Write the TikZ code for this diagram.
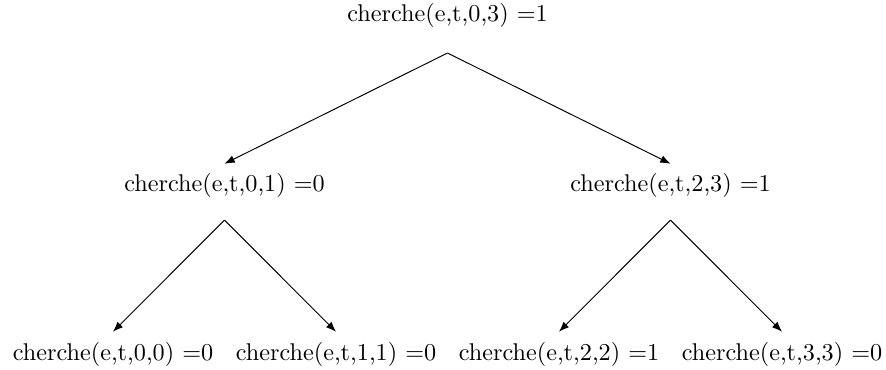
\documentclass[tikz,border=0pt]{standalone}
\usetikzlibrary{arrows.meta}
\begin{document}
\begin{tikzpicture}[x=0.413pt,y=-0.413pt,
  lbl/.style={inner sep=0pt,outer sep=0pt},
  arr/.style={line width=0.4pt,-{Latex[length=4.2pt,width=3.2pt]}}]
\useasboundingbox (0,0) rectangle (886,369);
\node[lbl] (r) at (447.5,15.5) {cherche(e,t,0,3) $=$1};
\node[lbl] (a) at (224.5,185.5) {cherche(e,t,0,1) $=$0};
\node[lbl] (b) at (670.5,185.5) {cherche(e,t,2,3) $=$1};
\node[lbl] (a1) at (113,354) {cherche(e,t,0,0) $=$0};
\node[lbl] (a2) at (336,354) {cherche(e,t,1,1) $=$0};
\node[lbl] (b1) at (559,354) {cherche(e,t,2,2) $=$1};
\node[lbl] (b2) at (782,354) {cherche(e,t,3,3) $=$0};
\draw[arr] ([yshift=-10.5pt]r.south) -- ([yshift=4pt]a.north);
\draw[arr] ([yshift=-10.5pt]r.south) -- ([yshift=4pt]b.north);
\draw[arr] ([yshift=-9.3pt]a.south) -- ([yshift=4.2pt]a1.north);
\draw[arr] ([yshift=-9.3pt]a.south) -- ([yshift=4.2pt]a2.north);
\draw[arr] ([yshift=-9.3pt]b.south) -- ([yshift=4.2pt]b1.north);
\draw[arr] ([yshift=-9.3pt]b.south) -- ([yshift=4.2pt]b2.north);
\end{tikzpicture}
\end{document}
